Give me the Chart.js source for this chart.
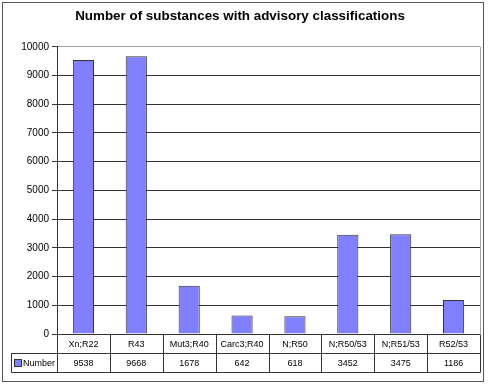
<!DOCTYPE html>
<html>
<head>
<meta charset="utf-8">
<script src="https://cdn.jsdelivr.net/npm/chart.js@4.4.0/dist/chart.umd.min.js"></script>
<style>
    body { margin: 0; background: #fff; }
    #wrap { width: 490px; height: 386px; }
</style>
</head>
<body>
<div id="wrap"><canvas id="substanceChart" width="490" height="386"></canvas></div>
<script>
var categories = ["Xn;R22", "R43", "Mut3;R40", "Carc3;R40", "N;R50", "N;R50/53", "N;R51/53", "R52/53"];
var seriesName = "Number";
var counts = [9538, 9668, 1678, 642, 618, 3452, 3475, 1186];
var yTicks = [0, 1000, 2000, 3000, 4000, 5000, 6000, 7000, 8000, 9000, 10000];

var barFill = "#8080ff";
var lineDark = "#333";
var fontName = "'Liberation Sans', Arial, sans-serif";

// frame + right border of the plot area
var framePlugin = {
    id: 'frame',
    beforeDraw: function (chart) {
        var ctx = chart.ctx;
        ctx.save();
        ctx.fillStyle = "#fff";
        ctx.fillRect(0, 0, chart.width, chart.height);
        ctx.strokeStyle = "#555";
        ctx.lineWidth = 1;
        ctx.strokeRect(2.5, 2.5, 481, 379);
        ctx.restore();
    },
    afterDatasetsDraw: function (chart) {
        var ctx = chart.ctx;
        var area = chart.chartArea;
        ctx.save();
        ctx.strokeStyle = "#a0a0a0";
        ctx.lineWidth = 1;
        ctx.beginPath();
        ctx.moveTo(Math.round(area.right) + 0.5, area.top);
        ctx.lineTo(Math.round(area.right) + 0.5, area.bottom);
        ctx.stroke();
        ctx.restore();
    }
};

// Excel style data table under the plot
var tablePlugin = {
    id: 'dataTable',
    afterDraw: function (chart) {
        var ctx = chart.ctx;
        var area = chart.chartArea;
        var xs = chart.scales.x;
        var colW = (area.right - area.left) / categories.length;
        var y0 = Math.round(area.bottom) + 0.5;
        var y1 = y0 + 19;
        var y2 = y1 + 19;
        var tableLeft = 11.5;

        ctx.save();
        ctx.strokeStyle = lineDark;
        ctx.lineWidth = 1;
        ctx.beginPath();
        ctx.moveTo(tableLeft, y1);
        ctx.lineTo(Math.round(area.right) + 0.5, y1);
        ctx.moveTo(tableLeft, y2);
        ctx.lineTo(Math.round(area.right) + 0.5, y2);
        ctx.moveTo(tableLeft, y1);
        ctx.lineTo(tableLeft, y2);
        for (var i = 0; i <= categories.length; i++) {
            var bx = Math.round(area.left + i * colW) + 0.5;
            ctx.moveTo(bx, y0);
            ctx.lineTo(bx, y2);
        }
        ctx.stroke();

        ctx.fillStyle = "#000";
        ctx.font = "9px " + fontName;
        ctx.textAlign = "center";
        ctx.textBaseline = "middle";
        for (var j = 0; j < categories.length; j++) {
            var cx = xs.getPixelForValue(j);
            ctx.fillText(categories[j], cx, (y0 + y1) / 2 + 1);
            ctx.fillText(String(counts[j]), cx, (y1 + y2) / 2 + 1);
        }

        // legend key in first column
        ctx.fillStyle = barFill;
        ctx.fillRect(14.5, y1 + 6, 7, 7);
        ctx.strokeStyle = "#333";
        ctx.strokeRect(14.5, y1 + 6, 7, 7);
        ctx.fillStyle = "#000";
        ctx.textAlign = "left";
        ctx.fillText(seriesName, 23, (y1 + y2) / 2 + 1);
        ctx.restore();
    }
};

var chart = new Chart(document.getElementById("substanceChart"), {
    type: 'bar',
    data: {
        labels: categories,
        datasets: [{
            label: seriesName,
            data: counts,
            backgroundColor: barFill,
            borderColor: "#333",
            borderWidth: 1,
            barPercentage: 0.4,
            categoryPercentage: 1
        }]
    },
    options: {
        responsive: false,
        animation: false,
        layout: {
            padding: { left: 0, right: 10, top: 0, bottom: 52 }
        },
        plugins: {
            legend: { display: false },
            tooltip: { enabled: false },
            title: {
                display: true,
                text: 'Number of substances with advisory classifications',
                color: "#000",
                font: { family: fontName, size: 13.4, weight: 'bold' },
                padding: { top: 8, bottom: 22.7 }
            }
        },
        scales: {
            x: {
                display: false,
                grid: { display: false }
            },
            y: {
                min: 0,
                max: 10000,
                afterBuildTicks: function (scale) {
                    scale.ticks = yTicks.map(function (v) { return { value: v }; });
                },
                afterFit: function (scale) {
                    scale.width = 57;
                },
                border: { display: true, color: lineDark, width: 1 },
                grid: {
                    color: function (c) {
                        return c.tick && c.tick.value === 10000 ? "#a0a0a0" : lineDark;
                    },
                    tickLength: 5,
                    tickColor: lineDark
                },
                ticks: {
                    color: "#000",
                    padding: 3,
                    font: { family: fontName, size: 10 },
                    callback: function (value) {
                        return String(value);
                    }
                }
            }
        }
    },
    plugins: [framePlugin, tablePlugin]
});
</script>
</body>
</html>
